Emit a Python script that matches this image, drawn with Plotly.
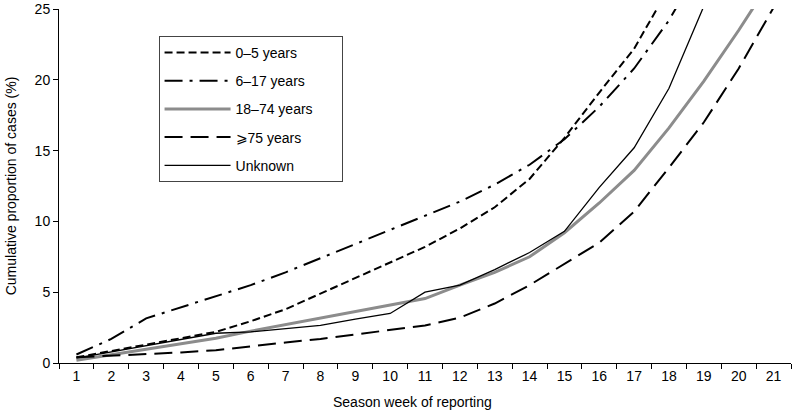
import plotly.graph_objects as go

weeks = [str(i) for i in range(1, 22)]

age_0_5 = [0.4, 0.85, 1.3, 1.75, 2.2, 2.95, 3.8, 4.9, 6.0, 7.1, 8.2, 9.5, 11.0, 13.0, 15.9, 19.1, 22.2, 26.5]
age_6_17 = [0.6, 1.7, 3.15, 3.95, 4.7, 5.5, 6.4, 7.4, 8.4, 9.4, 10.4, 11.4, 12.6, 14.0, 15.8, 18.1, 20.8, 24.2, 28.5]
age_18_74 = [0.2, 0.6, 0.95, 1.35, 1.75, 2.25, 2.7, 3.15, 3.6, 4.05, 4.55, 5.5, 6.4, 7.5, 9.2, 11.3, 13.6, 16.6, 19.9, 23.5, 27.3]
age_75 = [0.4, 0.5, 0.6, 0.75, 0.9, 1.2, 1.45, 1.7, 2.0, 2.3, 2.65, 3.2, 4.2, 5.5, 7.0, 8.5, 10.7, 13.8, 17.0, 20.8, 25.1]
unknown = [0.35, 0.8, 1.25, 1.7, 2.1, 2.2, 2.4, 2.65, 3.1, 3.5, 5.0, 5.5, 6.6, 7.8, 9.3, 12.4, 15.2, 19.4, 25.2]

series_names = ["0\u20135 years", "6\u201317 years", "18\u201374 years\u00a0\u00a0\u00a0\u00a0\u00a0\u00a0", "\u2a7e75 years", "Unknown"]
series_values = [age_0_5, age_6_17, age_18_74, age_75, unknown]
series_lines = [
    dict(color="black", width=2, dash="8px,4px"),
    dict(color="black", width=2, dash="18px,7px,3px,7px"),
    dict(color="#8c8c8c", width=3),
    dict(color="black", width=2, dash="18px,8px"),
    dict(color="black", width=1.3),
]

FONT = "Liberation Sans, Arial, sans-serif"

fig = go.Figure()
for i, (name, vals, line) in enumerate(zip(series_names, series_values, series_lines)):
    fig.add_trace(go.Scatter(
        x=weeks[:len(vals)], y=vals, name=name, mode="lines",
        line=line, legendgroup=str(i),
    ))

fig.update_layout(
    width=792, height=414,
    margin=dict(l=59, r=1, t=9, b=51),
    plot_bgcolor="white", paper_bgcolor="white",
    font=dict(family=FONT, size=14, color="black"),
    showlegend=True,
    legend=dict(
        x=0.136, y=0.924, xanchor="left", yanchor="top",
        bordercolor="#444", borderwidth=1, bgcolor="white",
        font=dict(family=FONT, size=14, color="black"),
        traceorder="grouped", tracegroupgap=7, itemwidth=66,
    ),
    xaxis=dict(
        type="category", range=[-0.5, 20.5], tickson="boundaries",
        ticks="outside", ticklen=5, automargin=False,
        tickcolor="black", showline=True, linecolor="black", linewidth=1,
        showgrid=False, zeroline=False,
        tickfont=dict(family=FONT, size=14, color="black"),
    ),
    yaxis=dict(
        range=[0, 25], tickvals=[0, 5, 10, 15, 20, 25], ticks="outside", ticklen=5,
        tickcolor="black", showline=True, linecolor="black", linewidth=1,
        showgrid=False, zeroline=False, automargin=False,
        tickfont=dict(family=FONT, size=14, color="black"),
        title=dict(text="Cumulative proportion of cases (%)", font=dict(family=FONT, size=14), standoff=14),
    ),
    annotations=[dict(
        text="Season week of reporting", xref="paper", yref="paper",
        x=0.4836, y=-0.111, xanchor="center", yanchor="middle", showarrow=False,
        font=dict(family=FONT, size=14, color="black"),
    )],
)

fig.write_html("out.html", config={"displayModeBar": False},
               post_script="document.body.style.margin='0px';")
